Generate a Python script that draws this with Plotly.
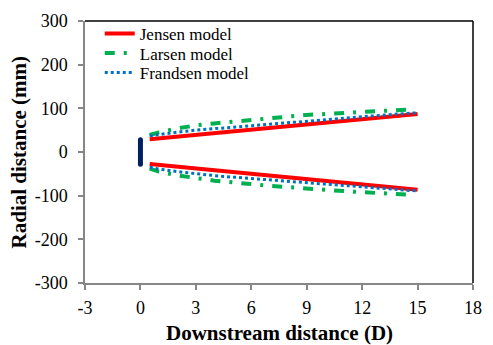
import plotly.graph_objects as go

# Downstream distance (D) sample positions
jensen_x = [0.5, 5, 10, 15]
jensen_upper = [29, 47, 67, 87]
jensen_lower = [-27.5, -46, -66.5, -86.5]

larsen_x = [0.5, 1, 2, 3, 4, 5, 6, 7, 8, 9, 10, 11, 12, 13, 14, 14.8]
larsen_upper = [39, 45, 54, 61, 65.5, 69.5, 74, 78.5, 82, 85, 87, 89, 91, 93.3, 95.7, 98]
larsen_lower = [-38, -45, -53.5, -60, -65.6, -69.5, -74, -77.5, -80.5, -84, -87, -89.5, -92, -94.5, -96.5, -98.5]

frandsen_x = [0.5, 1, 2, 3, 4, 5, 6, 7, 8, 9, 10, 11, 12, 13, 14, 14.9]
frandsen_upper = [37, 40, 45.5, 50, 53.5, 57, 61, 64, 67.5, 71, 74.5, 77.5, 81, 84, 87, 89.5]
frandsen_lower = [-35, -39, -45, -50, -54, -57.5, -61, -64.5, -67.5, -70.5, -73.5, -76.5, -80, -83.5, -86.5, -89]

rotor_x = [0, 0]
rotor_y = [-28, 28]

x_ticks = [-3, 0, 3, 6, 9, 12, 15, 18]
y_ticks = [-300, -200, -100, 0, 100, 200, 300]
x_tick_labels = [str(v) for v in x_ticks]
y_tick_labels = [str(v) for v in y_ticks]

FONT = "Liberation Serif"
GRAY = "#868686"

def both(xs, up, lo):
    return xs + [None] + xs, up + [None] + lo

fig = go.Figure()
jx, jy = both(jensen_x, jensen_upper, jensen_lower)
fig.add_trace(go.Scatter(x=jx, y=jy, mode="lines", name="Jensen model", legend="legend",
                         line=dict(color="#FF0000", width=4)))
lx, ly = both(larsen_x, larsen_upper, larsen_lower)
fig.add_trace(go.Scatter(x=lx, y=ly, mode="lines", name="Larsen model", legend="legend2",
                         line=dict(color="#00B050", width=4, dash="10px,9px,3px,9px")))
fx, fy = both(frandsen_x, frandsen_upper, frandsen_lower)
fig.add_trace(go.Scatter(x=fx, y=fy, mode="lines", name="Frandsen model", legend="legend3",
                         line=dict(color="#0070C0", width=3, dash="3px,3px")))
fig.add_trace(go.Scatter(x=rotor_x, y=rotor_y, mode="lines+markers", showlegend=False,
                         line=dict(color="#002060", width=5),
                         marker=dict(color="#002060", size=5)))

axis_common = dict(showgrid=False, zeroline=False, showline=True, linecolor=GRAY,
                   linewidth=1.5, ticks="outside", ticklen=5, tickcolor=GRAY, tickwidth=1.5,
                   tickfont=dict(family=FONT, size=18, color="black"))

fig.update_xaxes(range=[-3, 18], tickvals=x_ticks, ticktext=x_tick_labels,
                 ticklabelstandoff=3, **axis_common)
fig.update_yaxes(range=[-300, 300], tickvals=y_ticks, ticktext=y_tick_labels,
                 ticklabelstandoff=7, **axis_common)

def leg(y):
    return dict(x=0.038, y=y, xanchor="left", yanchor="middle",
                bgcolor="rgba(0,0,0,0)", font=dict(family=FONT, size=17, color="black"))

fig.update_layout(
    width=493, height=345,
    margin=dict(l=85, r=11, t=16, b=62),
    plot_bgcolor="white", paper_bgcolor="white",
    font=dict(family=FONT, color="black"),
    legend=leg(0.951), legend2=leg(0.876), legend3=leg(0.802),
    shapes=[
        dict(type="line", xref="paper", yref="paper", x0=0, x1=1, y0=1, y1=1,
             line=dict(color="black", width=1.5)),
        dict(type="line", xref="paper", yref="paper", x0=1, x1=1, y0=0, y1=1,
             line=dict(color="black", width=1.5)),
    ],
    annotations=[
        dict(text="<b>Downstream distance (D)</b>", xref="paper", yref="paper",
             x=0.5, y=-0.19, xanchor="center", yanchor="middle", showarrow=False,
             font=dict(family=FONT, size=21, color="black")),
        dict(text="<b>Radial distance (mm)</b>", xref="paper", yref="paper",
             x=-0.169, y=0.5, xanchor="center", yanchor="middle", showarrow=False,
             textangle=-90, font=dict(family=FONT, size=21, color="black")),
    ],
)

fig.write_html("out.html")
